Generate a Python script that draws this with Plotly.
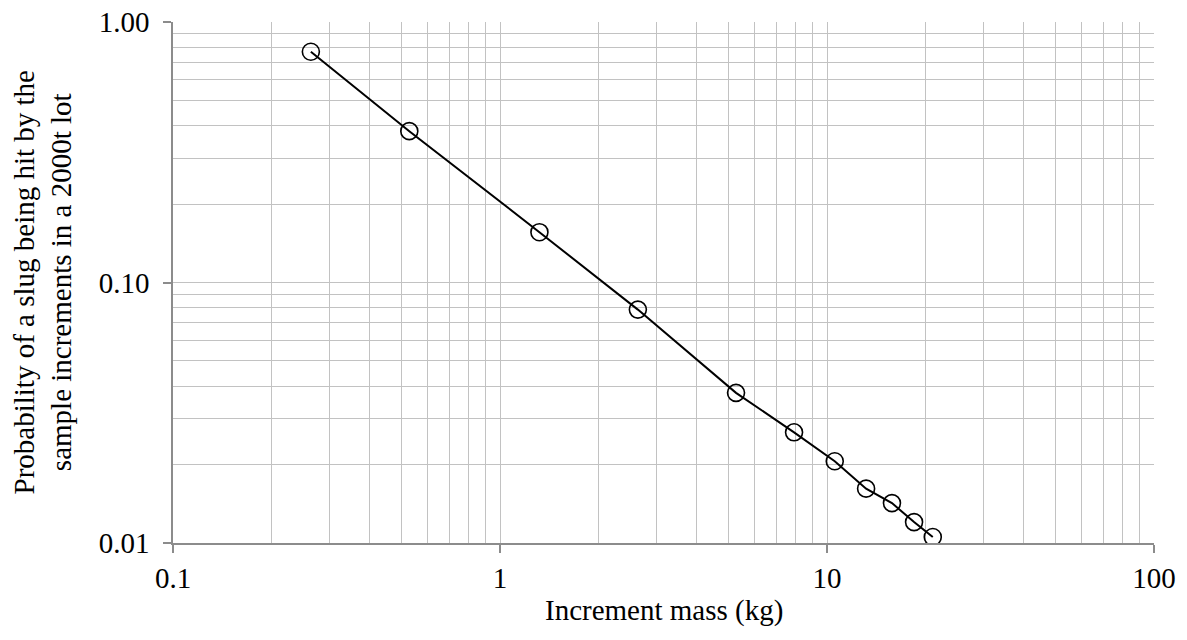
import plotly.graph_objects as go

mass_kg = [0.264, 0.528, 1.32, 2.64, 5.27, 7.93, 10.56, 13.17, 15.8, 18.46, 21.06]
probability = [0.769, 0.381, 0.156, 0.0787, 0.0377, 0.0266, 0.0206, 0.01617, 0.01423, 0.01203, 0.01054]

x_ticks = [0.1, 1, 10, 100]
x_tick_text = ["0.1", "1", "10", "100"]
y_ticks = [0.01, 0.1, 1.0]
y_tick_text = ["0.01", "0.10", "1.00"]

x_title = "Increment mass (kg)"
y_title = "Probability of a slug being hit by the<br>sample increments in a 2000t lot"

FONT = "Liberation Serif, Times New Roman, serif"
FS = 29
GRID = "#c2c2c2"
AXIS = "#8c8c8c"

fig = go.Figure()
fig.add_trace(go.Scatter(
    x=mass_kg, y=probability, mode="lines+markers",
    line=dict(color="black", width=2),
    marker=dict(symbol="circle-open", size=17, color="black", line=dict(width=1.6, color="black")),
    showlegend=False,
))

fig.update_layout(
    width=1187, height=640,
    margin=dict(l=173, r=33, t=22, b=97),
    paper_bgcolor="white", plot_bgcolor="white",
    font=dict(family=FONT, size=FS, color="black"),
    annotations=[
        dict(text=x_title, xref="paper", yref="paper", x=0.5, y=0,
             xanchor="center", yanchor="middle", yshift=-67, showarrow=False,
             font=dict(size=FS, family=FONT, color="black")),
        dict(text=y_title, xref="paper", yref="paper", x=0, y=0.5,
             xanchor="center", yanchor="middle", xshift=-131, showarrow=False,
             textangle=-90, font=dict(size=FS, family=FONT, color="black")),
    ],
)
fig.update_xaxes(
    type="log", range=[-1, 2], automargin=False,
    tickvals=x_ticks, ticktext=x_tick_text,
    showgrid=True, gridcolor=GRID, gridwidth=1.4,
    minor=dict(dtick="D1", showgrid=True, gridcolor=GRID, gridwidth=1.4, ticks=""),
    showline=True, linecolor=AXIS, linewidth=1.5,
    ticks="outside", ticklen=8, tickcolor=AXIS, tickwidth=1.5,
    tickfont=dict(size=FS, family=FONT), ticklabelstandoff=0,
    ticklabeloverflow="allow",
    mirror=False, zeroline=False,
)
fig.update_yaxes(
    type="log", range=[-2, 0], automargin=False,
    tickvals=y_ticks, ticktext=y_tick_text,
    showgrid=True, gridcolor=GRID, gridwidth=1.4,
    minor=dict(dtick="D1", showgrid=True, gridcolor=GRID, gridwidth=1.4, ticks=""),
    showline=True, linecolor=AXIS, linewidth=1.5,
    ticks="outside", ticklen=8, tickcolor=AXIS, tickwidth=1.5,
    tickfont=dict(size=FS, family=FONT), ticklabelstandoff=8,
    ticklabeloverflow="allow",
    zeroline=False,
)

# remove the browser's default 8px body margin so the figure fills the window exactly
fig.write_html("out.html", config={"displayModeBar": False},
               post_script="document.body.style.margin='0';")
